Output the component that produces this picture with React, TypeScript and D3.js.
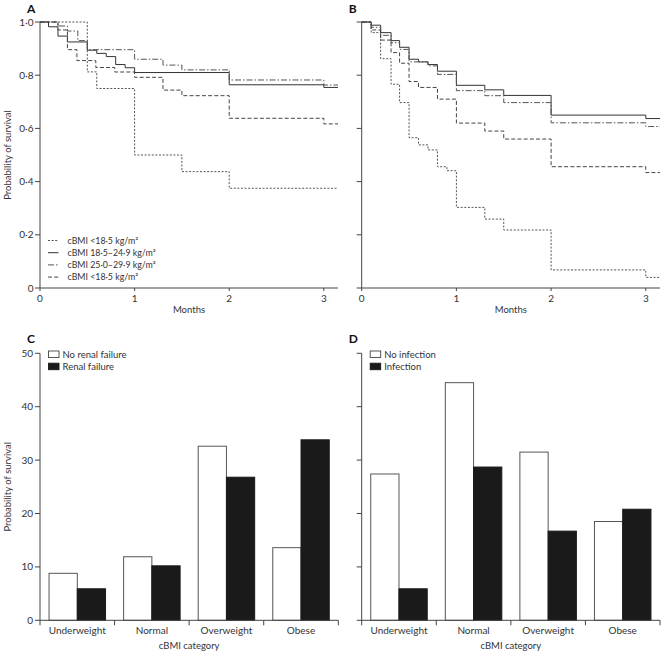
import React from "react";
import * as d3 from "d3";

// ---------- Data ----------
const monthTicks = [0, 1, 2, 3];
const survTicks = [0, 0.2, 0.4, 0.6, 0.8, 1.0];
const barTicks = [0, 10, 20, 30, 40, 50];
const categories = ["Underweight", "Normal", "Overweight", "Obese"];

const kmLegend = [
  "cBMI <18·5 kg/m²",
  "cBMI 18·5–24·9 kg/m²",
  "cBMI 25·0–29·9 kg/m²",
  "cBMI <18·5 kg/m²",
];

// Panel A step points [month, survival]
const aUnder: [number, number][] = [[0, 1], [0.5, 0.8125], [0.6, 0.75], [1.0, 0.5], [1.5, 0.4375], [2.0, 0.375]];
const aNormal: [number, number][] = [[0, 1], [0.09, 0.982], [0.19, 0.947], [0.29, 0.925], [0.5, 0.894], [0.6, 0.882], [0.7, 0.87], [0.8, 0.84], [0.9, 0.828], [1.0, 0.81], [2.0, 0.764], [3.0, 0.754]];
const aOver: [number, number][] = [[0, 1], [0.19, 0.985], [0.29, 0.966], [0.4, 0.93], [0.5, 0.896], [1.0, 0.86], [1.3, 0.838], [1.5, 0.82], [2.0, 0.782], [3.0, 0.763]];
const aObese: [number, number][] = [[0, 1], [0.19, 0.97], [0.29, 0.896], [0.39, 0.855], [0.59, 0.829], [0.79, 0.812], [1.0, 0.792], [1.3, 0.744], [1.5, 0.723], [2.0, 0.638], [3.0, 0.617]];

// Panel B step points
const bUnder: [number, number][] = [[0, 1], [0.1, 0.96], [0.2, 0.862], [0.31, 0.766], [0.4, 0.697], [0.5, 0.565], [0.6, 0.538], [0.7, 0.519], [0.8, 0.456], [0.9, 0.441], [1.0, 0.303], [1.3, 0.259], [1.5, 0.218], [2.0, 0.068], [3.0, 0.04]];
const bNormal: [number, number][] = [[0, 1], [0.1, 0.988], [0.2, 0.96], [0.31, 0.93], [0.4, 0.905], [0.5, 0.86], [0.6, 0.85], [0.7, 0.84], [0.8, 0.815], [1.0, 0.762], [1.3, 0.745], [1.5, 0.724], [2.0, 0.65], [3.0, 0.637]];
const bOver: [number, number][] = [[0, 1], [0.1, 0.98], [0.2, 0.95], [0.31, 0.922], [0.4, 0.897], [0.5, 0.85], [0.7, 0.835], [0.8, 0.803], [1.0, 0.742], [1.3, 0.723], [1.5, 0.697], [2.0, 0.621], [3.0, 0.607]];
const bObese: [number, number][] = [[0, 1], [0.1, 0.97], [0.2, 0.932], [0.31, 0.885], [0.4, 0.845], [0.5, 0.776], [0.6, 0.754], [0.8, 0.71], [1.0, 0.62], [1.3, 0.59], [1.5, 0.56], [2.0, 0.456], [3.0, 0.434]];

const endMonth = 3.15;

// Panel C
const cLegend = ["No renal failure", "Renal failure"];
const cNo = [8.8, 11.9, 32.6, 13.6];
const cYes = [5.9, 10.2, 26.8, 33.8];
// Panel D
const dLegend = ["No infection", "Infection"];
const dNo = [27.4, 44.5, 31.5, 18.5];
const dYes = [5.9, 28.7, 16.7, 20.8];

// ---------- Styles ----------
const FONT = "Lato, 'Open Sans', sans-serif";
const TXT = "#333";
const AX = "#444";
const dashes = ["2,1.6", "", "6,2,1.5,2", "4,2.2"];
const lineColors = ["#555", "#333", "#555", "#444"];

function KMPanel({ x0, x1, letter, series, showY, legend }: any) {
  const x = d3.scaleLinear().domain([0, endMonth]).range([x0, x1]);
  const y = d3.scaleLinear().domain([0, 1]).range([288, 22]);
  const line = d3
    .line<[number, number]>()
    .x((d) => x(d[0]))
    .y((d) => y(d[1]))
    .curve(d3.curveStepAfter);
  return (
    <g>
      <text x={x0 - 13} y={13} fontSize={12} fontWeight="bold" fill="#111">{letter}</text>
      {series.map((s: [number, number][], i: number) => {
        const pts = [...s, [endMonth, s[s.length - 1][1]] as [number, number]];
        return (
          <path key={i} d={line(pts) || ""} fill="none" stroke={lineColors[i]} strokeWidth={1} strokeDasharray={dashes[i]} />
        );
      })}
      <line x1={x0} x2={x0} y1={y(0)} y2={y(1)} stroke={AX} strokeWidth={1} />
      <line x1={x0} x2={x1} y1={y(0)} y2={y(0)} stroke={AX} strokeWidth={1} />
      {survTicks.map((t) => (
        <g key={t}>
          <line x1={x0 - 5} x2={x0} y1={y(t)} y2={y(t)} stroke={AX} />
          {showY && (
            <text x={x0 - 6.5} y={y(t) + 3.5} fontSize={10} textAnchor="end" fill={TXT}>
              {t === 0 ? "0" : d3.format(".1f")(t).replace(".", "·")}
            </text>
          )}
        </g>
      ))}
      {monthTicks.map((t) => (
        <g key={t}>
          <line x1={x(t)} x2={x(t)} y1={y(0)} y2={y(0) + 3} stroke={AX} />
          <text x={x(t)} y={302} fontSize={10} textAnchor="middle" fill={TXT}>{t}</text>
        </g>
      ))}
      <text x={(x0 + x1) / 2} y={313} fontSize={9.5} textAnchor="middle" fill={TXT}>Months</text>
      {showY && (
        <text transform={`translate(11,${(y(0) + y(1)) / 2 + 0}) rotate(-90)`} fontSize={9.5} textAnchor="middle" fill={TXT}>
          Probability of survival
        </text>
      )}
      {legend &&
        legend.map((l: string, i: number) => {
          const ly = 240.5 + i * 12.2;
          return (
            <g key={i}>
              <line x1={48} x2={58.5} y1={ly} y2={ly} stroke={lineColors[i]} strokeDasharray={dashes[i]} />
              <text x={67.5} y={ly + 3.3} fontSize={8.8} fill={TXT}>{l}</text>
            </g>
          );
        })}
    </g>
  );
}

function BarPanel({ x0, x1, letter, no, yes, legend, showY }: any) {
  const y = d3.scaleLinear().domain([0, 50]).range([620.3, 353.3]);
  const xb = d3.scaleBand<string>().domain(categories).range([x0, x1]).paddingInner(0).paddingOuter(0);
  const inner = d3.scaleBand<string>().domain(["no", "yes"]).range([0, xb.bandwidth()]).paddingInner(0).paddingOuter(0.32);
  const bounds = [...categories.map((c) => xb(c) as number), x1];
  return (
    <g>
      <text x={x0 - 13} y={343} fontSize={12} fontWeight="bold" fill="#111">{letter}</text>
      {categories.map((c, i) => (
        <g key={c}>
          <rect x={(xb(c) as number) + (inner("no") as number)} y={y(no[i])} width={inner.bandwidth()} height={y(0) - y(no[i])} fill="#fff" stroke="#555" strokeWidth={1} />
          <rect x={(xb(c) as number) + (inner("yes") as number)} y={y(yes[i])} width={inner.bandwidth()} height={y(0) - y(yes[i])} fill="#1a1a1a" stroke="#1a1a1a" strokeWidth={1} />
          <text x={(xb(c) as number) + xb.bandwidth() / 2} y={634} fontSize={10} textAnchor="middle" fill={TXT}>{c}</text>
        </g>
      ))}
      <line x1={x0} x2={x0} y1={y(0)} y2={y(50)} stroke={AX} strokeWidth={1} />
      <line x1={x0} x2={x1} y1={y(0)} y2={y(0)} stroke={AX} strokeWidth={1} />
      {bounds.map((b, i) => (
        <line key={i} x1={b} x2={b} y1={y(0)} y2={y(0) + 5} stroke={AX} />
      ))}
      {barTicks.map((t) => (
        <g key={t}>
          <line x1={x0 - 5} x2={x0} y1={y(t)} y2={y(t)} stroke={AX} />
          {showY && (
            <text x={x0 - 7} y={y(t) + 3.5} fontSize={10} textAnchor="end" fill={TXT}>{t}</text>
          )}
        </g>
      ))}
      <text x={(x0 + x1) / 2} y={649} fontSize={9.5} textAnchor="middle" fill={TXT}>cBMI category</text>
      {showY && (
        <text transform={`translate(11,${(y(0) + y(50)) / 2 }) rotate(-90)`} fontSize={9.5} textAnchor="middle" fill={TXT}>
          Probability of survival
        </text>
      )}
      {legend.map((l: string, i: number) => {
        const ly = 351 + i * 12.2;
        return (
          <g key={i}>
            <rect x={x0 + 8.5} y={ly} width={10.5} height={6.5} fill={i === 0 ? "#fff" : "#1a1a1a"} stroke={i === 0 ? "#444" : "#1a1a1a"} strokeWidth={0.9} />
            <text x={x0 + 22.5} y={ly + 7} fontSize={9.5} fill={TXT}>{l}</text>
          </g>
        );
      })}
    </g>
  );
}

export default function App() {
  return (
    <svg width={664} height={653} style={{ display: "block", position: "absolute", left: 0, top: 0 }} fontFamily={FONT}>
      <rect width={664} height={653} fill="#fff" />
      <KMPanel x0={40} x1={338} letter="A" series={[aUnder, aNormal, aOver, aObese]} showY={true} legend={kmLegend} />
      <KMPanel x0={361.7} x1={660} letter="B" series={[bUnder, bNormal, bOver, bObese]} showY={false} legend={null} />
      <BarPanel x0={40} x1={338.3} letter="C" no={cNo} yes={cYes} legend={cLegend} showY={true} />
      <BarPanel x0={361.7} x1={660} letter="D" no={dNo} yes={dYes} legend={dLegend} showY={false} />
    </svg>
  );
}
